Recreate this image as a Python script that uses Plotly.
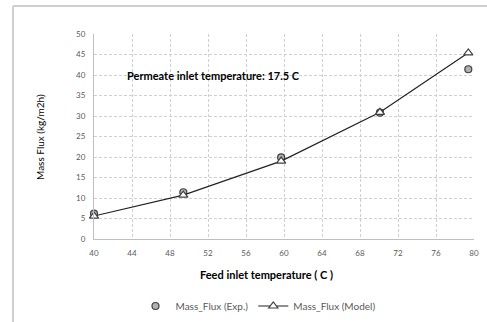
import plotly.graph_objects as go

temp_exp = [40.0, 49.4, 59.7, 70.1, 79.4]
flux_exp = [6.2, 11.4, 19.9, 30.8, 41.4]
temp_model = [40.0, 49.4, 59.7, 70.1, 79.4]
flux_model = [5.6, 10.7, 19.0, 30.9, 45.4]
x_ticks = [40, 44, 48, 52, 56, 60, 64, 68, 72, 76, 80]
y_ticks = [0, 5, 10, 15, 20, 25, 30, 35, 40, 45, 50]

FONT = "Lato, 'Liberation Sans', sans-serif"
GRAY = "#595959"
W, H = 487, 322

def P(px, py):
    return px / W, 1 - py / H

fig = go.Figure()
fig.add_trace(go.Scatter(
    x=temp_exp, y=flux_exp, mode="markers", name="Mass_Flux (Exp.)", cliponaxis=False,
    marker=dict(symbol="circle", size=7, color="#b0b0b0",
                line=dict(color="#404040", width=1.2)),
))
fig.add_trace(go.Scatter(
    x=temp_model, y=flux_model, mode="lines+markers", name="Mass_Flux (Model)", cliponaxis=False,
    line=dict(color="#222222", width=1.2),
    marker=dict(symbol="triangle-up", size=8, color="white",
                line=dict(color="#404040", width=1.2)),
))

x0, _ = P(94, 0)
x1, _ = P(474, 0)
_, y0 = P(0, 239)
_, y1 = P(0, 34)

fig.update_layout(
    width=W, height=H,
    margin=dict(l=0, r=0, t=0, b=0, autoexpand=False),
    paper_bgcolor="white", plot_bgcolor="white",
    font=dict(family=FONT, size=8, color=GRAY),
    showlegend=True,
    legend=dict(orientation="h", x=P(258, 0)[0], xanchor="center",
                y=P(0, 306)[1], yanchor="middle",
                font=dict(size=10, color=GRAY), itemwidth=30,
                bgcolor="rgba(0,0,0,0)"),
    xaxis=dict(domain=[x0, x1], range=[40, 80], tickvals=x_ticks,
               ticktext=[str(v) for v in x_ticks],
               showgrid=True, gridcolor="#d0d0d0", griddash="3px,2px", gridwidth=1,
               showline=True, linecolor="#bfbfbf", linewidth=1,
               zeroline=False, ticks="", tickfont=dict(size=8, color=GRAY),
               ticklabelstandoff=6),
    yaxis=dict(domain=[y0, y1], range=[0, 50], tickvals=y_ticks,
               ticktext=[str(v) for v in y_ticks],
               showgrid=True, gridcolor="#d0d0d0", griddash="3px,2px", gridwidth=1,
               showline=True, linecolor="#bfbfbf", linewidth=1,
               zeroline=False, ticks="", tickfont=dict(size=8, color=GRAY),
               ticklabelstandoff=6),
)

fx, fy = P(13, 6)
fig.add_shape(type="line", xref="paper", yref="paper", x0=fx, x1=1.0, y0=fy, y1=fy,
              line=dict(color="#cfcfcf", width=2), layer="below")
fig.add_shape(type="line", xref="paper", yref="paper", x0=fx, x1=fx, y0=fy, y1=0.0,
              line=dict(color="#cfcfcf", width=2), layer="below")

ax, ay = P(125, 75)
fig.add_annotation(text="<b>Permeate inlet temperature: 17.5 C</b>", xref="paper", yref="paper",
                   x=ax, y=ay, xanchor="left", yanchor="middle", showarrow=False,
                   font=dict(family=FONT, size=11, color="#000000"))
tx, ty = P(266, 274)
fig.add_annotation(text="<b>Feed inlet temperature ( C )</b>", xref="paper", yref="paper",
                   x=tx, y=ty, xanchor="center", yanchor="middle", showarrow=False,
                   font=dict(family=FONT, size=11, color="#000000"))
yx, yy = P(40, 137)
fig.add_annotation(text="Mass Flux (kg/m2h)", xref="paper", yref="paper",
                   x=yx, y=yy, xanchor="center", yanchor="middle", showarrow=False,
                   textangle=-90, font=dict(family=FONT, size=10, color="#000000"))

fig.write_html("out.html", config={"displayModeBar": False},
               post_script="document.body.style.margin='0px';document.body.style.overflow='hidden';")
